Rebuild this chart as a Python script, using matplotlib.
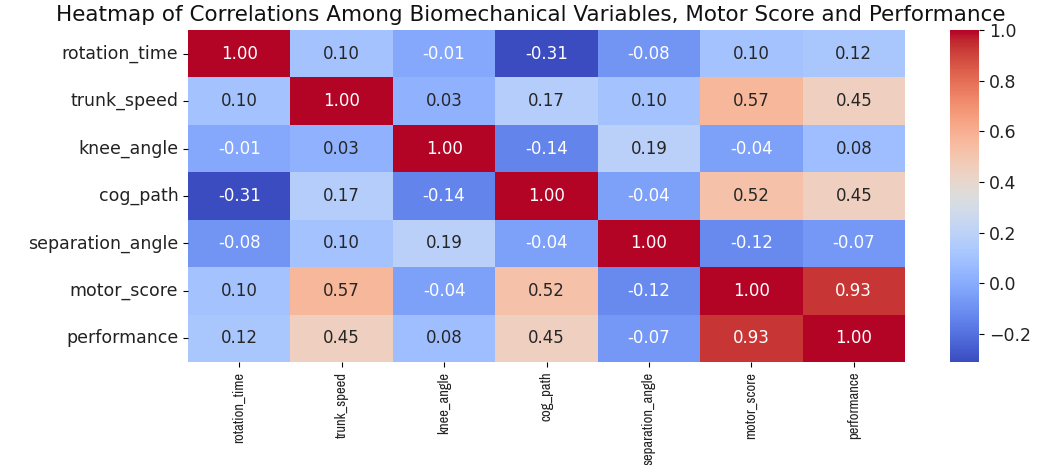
import numpy as np
import matplotlib
matplotlib.use("Agg")
import matplotlib.pyplot as plt
from matplotlib import font_manager
import seaborn as sns

labels = ["rotation_time", "trunk_speed", "knee_angle", "cog_path",
          "separation_angle", "motor_score", "performance"]

row_rotation_time = [1.00, 0.10, -0.01, -0.31, -0.08, 0.10, 0.12]
row_trunk_speed = [0.10, 1.00, 0.03, 0.17, 0.10, 0.57, 0.45]
row_knee_angle = [-0.01, 0.03, 1.00, -0.14, 0.19, -0.04, 0.08]
row_cog_path = [-0.31, 0.17, -0.14, 1.00, -0.04, 0.52, 0.45]
row_separation_angle = [-0.08, 0.10, 0.19, -0.04, 1.00, -0.12, -0.07]
row_motor_score = [0.10, 0.57, -0.04, 0.52, -0.12, 1.00, 0.93]
row_performance = [0.12, 0.45, 0.08, 0.45, -0.07, 0.93, 1.00]

corr = np.array([row_rotation_time, row_trunk_speed, row_knee_angle, row_cog_path,
                 row_separation_angle, row_motor_score, row_performance])

names = {f.name for f in font_manager.fontManager.ttflist}
if "Archivo Narrow" in names:
    xfont, xsize = "Archivo Narrow", 10.5
else:
    xfont, xsize = "DejaVu Sans", 8.2

W, H = 1058, 465
fig = plt.figure(figsize=(W / 100, H / 100), dpi=100)
ax = fig.add_axes([188 / W, 1 - 362 / H, (905 - 188) / W, (362 - 30) / H])
cax = fig.add_axes([950 / W, 1 - 362 / H, (979 - 950) / W, (362 - 30) / H])

sns.heatmap(corr, annot=True, fmt=".2f", cmap="coolwarm", ax=ax, cbar_ax=cax,
            xticklabels=labels, yticklabels=labels,
            annot_kws={"fontsize": 12})
ax.tick_params(axis="y", labelsize=12.5, labelcolor="#222222")
ax.tick_params(axis="x", labelcolor="#222222")
ax.set_xticklabels(labels, rotation=90, family=xfont, fontsize=xsize)
ax.set_yticklabels(labels, rotation=0)
cax.tick_params(labelsize=12.5, labelcolor="#222222")
cax.set_yticks([-0.2, 0.0, 0.2, 0.4, 0.6, 0.8, 1.0])

fig.text(531 / W, 1 - 15 / H, "Heatmap of Correlations Among Biomechanical Variables, Motor Score and Performance",
         ha="center", va="center", fontsize=15.5, color="#111111")

fig.savefig("out.png", dpi=100)
